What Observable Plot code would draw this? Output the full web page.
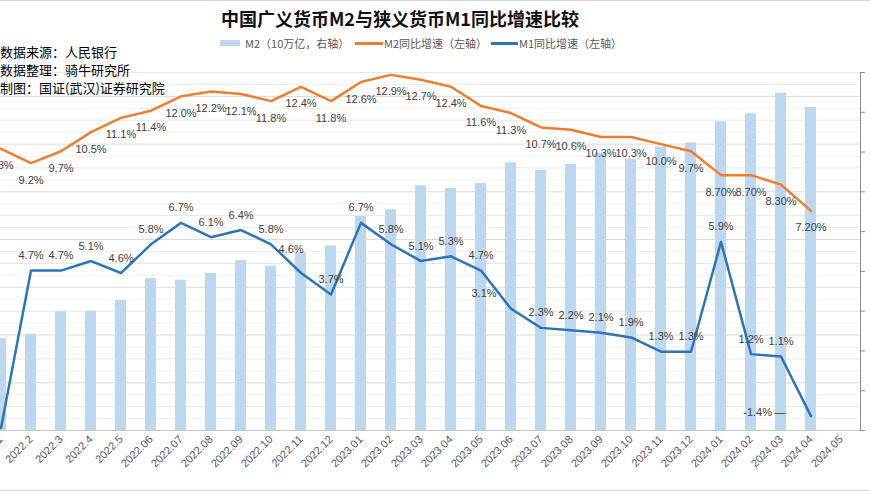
<!DOCTYPE html>
<html><head><meta charset="utf-8">
<script src="https://cdn.jsdelivr.net/npm/d3@7"></script>
<script src="https://cdn.jsdelivr.net/npm/@observablehq/plot@0.6"></script>
<style>
html,body{margin:0;padding:0;background:#fff;}
#wrap{position:relative;width:870px;height:492px;overflow:hidden;font-family:"Noto Sans CJK SC","Noto Sans",sans-serif;}
.layer{position:absolute;left:-18px;top:0;}
#border{position:absolute;left:0;top:0;width:870px;height:489px;border-top:1px solid #d9d9d9;border-bottom:1px solid #d9d9d9;}
#title{position:absolute;left:0;top:6px;width:800px;text-align:center;font-size:18px;font-weight:bold;line-height:24px;color:#111;}
.lg{position:absolute;font-size:11px;line-height:14px;color:#595959;white-space:nowrap;}
.sw{position:absolute;}
#notes{position:absolute;left:0;top:43px;font-size:13px;line-height:18px;color:#000;}
</style></head><body>
<div id="wrap">
  <div id="border"></div>
  <div id="grid" class="layer"></div>
  <div id="bars" class="layer"></div>
  <div id="lines" class="layer"></div>
  <div id="title">中国广义货币M2与狭义货币M1同比增速比较</div>
  <div class="sw" style="left:220px;top:40px;width:20px;height:6px;background:#BDD7EE"></div>
  <div class="lg" style="left:245px;top:36px">M2（10万亿，右轴）</div>
  <div class="sw" style="left:355px;top:42px;width:28px;height:2.5px;background:#ED7D31"></div>
  <div class="lg" style="left:384px;top:36px">M2同比增速（左轴）</div>
  <div class="sw" style="left:491px;top:42px;width:27px;height:2.5px;background:#2E75B6"></div>
  <div class="lg" style="left:519px;top:36px">M1同比增速（左轴）</div>
  <div id="notes">数据来源：人民银行<br>数据整理：骑牛研究所<br>制图：国证(武汉)证券研究院</div>
</div>
<script>
// categories / tick labels
const months = ["2022.1","2022.2","2022.3","2022.4","2022.5","2022.06","2022.07","2022.08","2022.09","2022.10","2022.11","2022.12",
  "2023.01","2023.02","2023.03","2023.04","2023.05","2023.06","2023.07","2023.08","2023.09","2023.10","2023.11","2023.12",
  "2024.01","2024.02","2024.03","2024.04","2024.05"];
// M2 level, 10万亿 (right axis)
const m2Level = [24.31,24.42,24.98,25.00,25.27,25.82,25.78,25.95,26.27,26.13,26.47,26.64,
  27.38,27.55,28.15,28.09,28.21,28.73,28.54,28.69,28.97,28.82,29.13,29.23,
  29.76,29.96,30.48,30.12];
// M2 YoY growth % (left axis)
const m2Growth = [9.8,9.2,9.7,10.5,11.1,11.4,12.0,12.2,12.1,11.8,12.4,11.8,
  12.6,12.9,12.7,12.4,11.6,11.3,10.7,10.6,10.3,10.3,10.0,9.7,
  8.7,8.7,8.3,7.2];
const m2Labels = ["9.8%","9.2%","9.7%","10.5%","11.1%","11.4%","12.0%","12.2%","12.1%","11.8%","12.4%","11.8%",
  "12.6%","12.9%","12.7%","12.4%","11.6%","11.3%","10.7%","10.6%","10.3%","10.3%","10.0%","9.7%",
  "8.70%","8.70%","8.30%","7.20%"];
// M1 YoY growth % (left axis)
const m1Growth = [-1.9,4.7,4.7,5.1,4.6,5.8,6.7,6.1,6.4,5.8,4.6,3.7,
  6.7,5.8,5.1,5.3,4.7,3.1,2.3,2.2,2.1,1.9,1.3,1.3,
  5.9,1.2,1.1,-1.4];
const m1Labels = ["","4.7%","4.7%","5.1%","4.6%","5.8%","6.7%","6.1%","6.4%","5.8%","4.6%","3.7%",
  "6.7%","5.8%","5.1%","5.3%","4.7%","3.1%","2.3%","2.2%","2.1%","1.9%","1.3%","1.3%",
  "5.9%","1.2%","1.1%","-1.4%"];
const leftTicks = [-2,-1,0,1,2,3,4,5,6,7,8,9,10,11,12,13];
const rightTicks = [22,23,24,25,26,27,28,29,30,31];

const m2Bars = m2Level.map((v,i)=>({m:months[i], v}));
const m2Line = m2Growth.map((v,i)=>({m:months[i], v, t:m2Labels[i]}));
const m1Line = m1Growth.map((v,i)=>({m:months[i], v, t:m1Labels[i]}));

const common = {
  width: 888, height: 492, marginTop: 72, marginBottom: 62, marginLeft: 0, marginRight: 10,
  style: {background: "transparent", overflow: "visible"}
};
const xs = {domain: months, type: "band", paddingInner: 0.62, paddingOuter: 0.31, axis: null, label: null};
const labelFont = {fontSize: 11, fill: "#404040", fontFamily: "Liberation Sans, Arial, sans-serif"};

// grid layer (left-axis gridlines)
document.getElementById("grid").append(Plot.plot({
  ...common,
  x: xs,
  y: {domain: [-2, 13], axis: null, label: null},
  marks: [
    Plot.ruleY(leftTicks.slice(1).map(t=>t-0.5), {stroke: "#f1f1f1"}),
    Plot.ruleY(leftTicks.filter(t=>Math.abs(t)%2===1), {stroke: "#e6e6e6"}),
    Plot.ruleY(leftTicks.filter(t=>Math.abs(t)%2===0 && t>-2), {stroke: "#d9d9d9"})
  ]
}));

// bars layer (right axis)
document.getElementById("bars").append(Plot.plot({
  ...common,
  x: xs,
  y: {domain: [22, 31], axis: null, label: null},
  marks: [
    Plot.barY(m2Bars, {x: "m", y1: 22, y2: "v", fill: "#BDD7EE"}),
    Plot.ruleY([22], {stroke: "#c8c8c8", strokeWidth: 1.2}),
    Plot.axisX({tickRotate: -45, tickSize: 0, tickPadding: 7, fontSize: 11, fill: "#595959", label: null,
      fontFamily: "Liberation Sans, Arial, sans-serif"}),
    Plot.axisY({anchor: "right", ticks: rightTicks, tickFormat: () => "", tickSize: 4, stroke: "#8c8c8c", label: null}),
    Plot.frame({anchor: "right", stroke: "#8c8c8c"})
  ]
}));

// lines layer (left axis)
const special = new Set(["2022.11","2023.06","2024.04"]);
document.getElementById("lines").append(Plot.plot({
  ...common,
  x: xs,
  y: {domain: [-2, 13], axis: null, label: null},
  marks: [
    Plot.line(m2Line, {x: "m", y: "v", stroke: "#ED7D31", strokeWidth: 2.5}),
    Plot.line(m1Line, {x: "m", y: "v", stroke: "#2E75B6", strokeWidth: 2.5}),
    Plot.text(m2Line, {x: "m", y: "v", text: "t", dy: 17, ...labelFont}),
    Plot.text(m1Line.filter(d=>!special.has(d.m)), {x: "m", y: "v", text: "t", dy: -15, ...labelFont}),
    Plot.text(m1Line.filter(d=>d.m==="2022.11"), {x: "m", y: "v", text: "t", dx: -10, dy: -24, ...labelFont}),
    Plot.text(m1Line.filter(d=>d.m==="2023.06"), {x: "m", y: "v", text: "t", dx: -27, dy: -15, ...labelFont}),
    Plot.text(m1Line.filter(d=>d.m==="2024.04"), {x: "m", y: "v", text: "t", dx: -39, dy: -4, textAnchor: "end", ...labelFont}),
    Plot.text(m1Line.filter(d=>d.m==="2024.04"), {x: "m", y: "v", text: () => "—", dx: -31, dy: -4, ...labelFont})
  ]
}));
</script>
</body></html>
